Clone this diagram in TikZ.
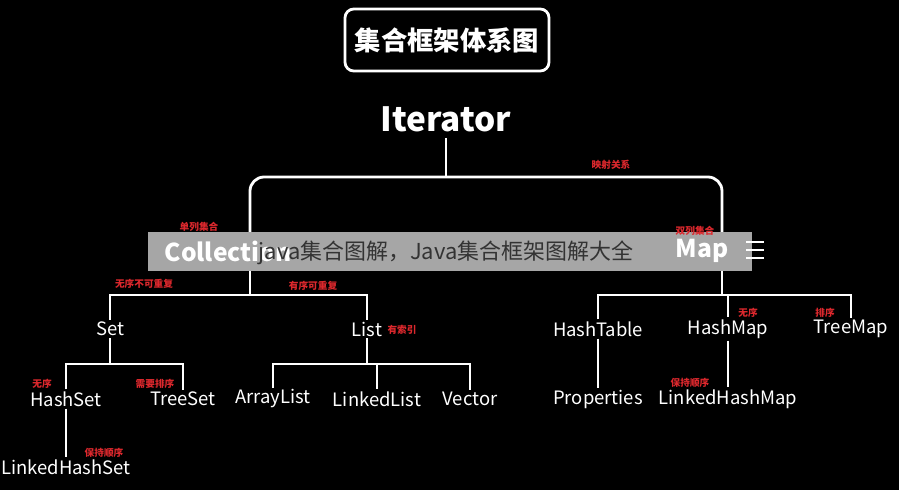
\documentclass[tikz,border=0pt]{standalone}
\usepackage{fontspec}
\setmainfont{Noto Sans CJK SC}
\usepackage{tikz}
\usetikzlibrary{positioning}
\definecolor{notered}{RGB}{220,40,45}
\tikzset{
  cls/.style={text=white, font=\fontsize{10.5}{12}\selectfont, inner sep=1pt},
  big/.style={text=white, font=\bfseries\fontsize{14}{16}\selectfont, inner sep=1pt},
  note/.style={text=notered, font=\bfseries\fontsize{5.5}{6}\selectfont, inner sep=0pt},
  link/.style={draw=white, line width=1.6pt},
}
\begin{document}
\begin{tikzpicture}[x=0.02cm,y=-0.02cm]
  \fill[black] (0,0) rectangle (899,490);
  \useasboundingbox (0,0) rectangle (899,490);

  % --- title and root ---
  \node[draw=white, line width=1.6pt, rounded corners=5pt, minimum width=204*0.02cm,
        minimum height=62*0.02cm, text=white, font=\bfseries\fontsize{15}{16}\selectfont]
        (title) at (447,40) {集合框架体系图};
  \node[text=white, font=\bfseries\fontsize{19}{22}\selectfont] (iter) at (446,119) {Iterator};

  % --- second level ---
  \node[cls] (set) at (110,329) {Set};
  \node[cls] (list) at (367,329) {List};
  \node[cls] (htab) at (598,329) {HashTable};
  \node[cls] (hmap) at (728,329) {HashMap};
  \node[cls] (tmap) at (851,329) {TreeMap};

  % --- third level ---
  \node[cls] (hset) at (66,399) {HashSet};
  \node[cls] (tset) at (183,399) {TreeSet};
  \node[cls] (alist) at (273,399) {ArrayList};
  \node[cls] (llist) at (377,399) {LinkedList};
  \node[cls] (vec) at (470,399) {Vector};
  \node[cls] (prop) at (598,399) {Properties};
  \node[cls] (lhmap) at (728,399) {LinkedHashMap};
  \node[cls] (lhset) at (66,467) {LinkedHashSet};

  % junctions
  \coordinate (jTop) at (446,177);
  \coordinate (jColl) at (250,295);
  \coordinate (jMap) at (722,295);
  \coordinate (jSet) at (110,364);
  \coordinate (jList) at (367,364);

  % connectors
  \draw[link] (iter.south) -- (jTop);
  \draw[link, rounded corners=8pt] (250,240) |- (jTop) -| (722,240);
  \draw[link] (250,265) -- (jColl);
  \draw[link] (set.north) |- (jColl) -| (list.north);
  \draw[link] (722,265) -- (jMap);
  \draw[link] (htab.north) |- (jMap) -| (tmap.north);
  \draw[link] (jMap -| hmap.north) -- (hmap.north);
  \draw[link] (set.south) -- (jSet);
  \draw[link] (hset.north) |- (jSet) -| (tset.north);
  \draw[link] (list.south) -- (jList);
  \draw[link] (alist.north) |- (jList) -| (vec.north);
  \draw[link] (jList -| llist.north) -- (llist.north);
  \draw[link] (hset.south) -- (lhset.north);
  \draw[link] (htab.south) -- (prop.north);
  \draw[link] (hmap.south) -- (lhmap.north);

  % --- gray banner ---
  \fill[gray!70] (148,232) rectangle (752,271);
  \node[big] (coll) at (228,251) {Collection};
  \node[big] (map) at (702,251) {Map};
  \node[text=black!80, font=\fontsize{12.5}{14}\selectfont] (wm) at (446,253) {java集合图解，Java集合框架图解大全};
  \foreach \yy in {242,250,258} \draw[white, line width=1.2pt] (746,\yy) -- (764,\yy);

  % red notes
  \node[note] (nMap) at (611,165) {映射关系};
  \node[note] (nColl) at (199,227) {单列集合};
  \node[note] (nDual) at (695,231) {双列集合};
  \node[note] (nSet) at (144,284) {无序不可重复};
  \node[note] (nList) at (313,286) {有序可重复};
  \node[note] (nIdx) at (402,330) {有索引};
  \node[note] (nHset) at (42,384) {无序};
  \node[note] (nTset) at (155,384) {需要排序};
  \node[note] (nLhs) at (104,453) {保持顺序};
  \node[note] (nHmap) at (748,313) {无序};
  \node[note] (nTmap) at (825,313) {排序};
  \node[note] (nLhm) at (690,383) {保持顺序};
\end{tikzpicture}
\end{document}
